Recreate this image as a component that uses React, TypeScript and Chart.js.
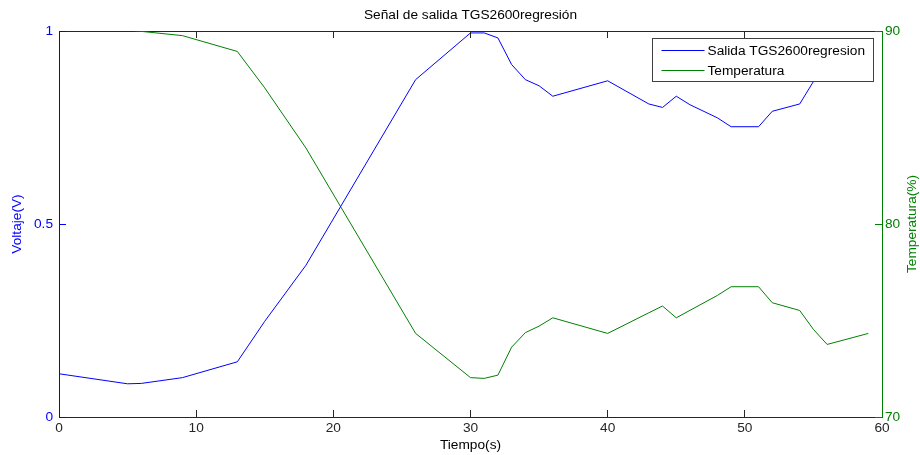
import React, { useEffect, useRef } from "react";
import { Chart, registerables } from "chart.js";

Chart.register(...registerables);

// ---- data ----
const titleText = "Señal de salida TGS2600regresión";
const xTitle = "Tiempo(s)";
const yLeftTitle = "Voltaje(V)";
const yRightTitle = "Temperatura(%)";
const seriesNames = ["Salida TGS2600regresion", "Temperatura"];

const timeV = [0, 5, 6, 9, 13, 15, 18, 26, 30, 31, 32, 33, 34, 35, 36, 40, 43, 44, 45, 46, 48, 49, 51, 52, 54, 55, 56, 59];
const voltage = [0.112, 0.086, 0.087, 0.102, 0.143, 0.248, 0.393, 0.874, 0.995, 0.995, 0.982, 0.913, 0.874, 0.858, 0.831, 0.871, 0.811, 0.802, 0.831, 0.809, 0.775, 0.752, 0.752, 0.792, 0.811, 0.869, 0.908, 0.88];

const timeT = [0, 5, 6, 9, 13, 15, 18, 26, 30, 31, 32, 33, 34, 35, 36, 40, 43, 44, 45, 48, 49, 51, 52, 54, 55, 56, 59];
const temperature = [90.8, 90.05, 89.98, 89.76, 88.94, 87.05, 83.94, 74.33, 72.04, 72.0, 72.17, 73.62, 74.37, 74.71, 75.14, 74.33, 75.4, 75.75, 75.14, 76.3, 76.75, 76.75, 75.92, 75.52, 74.54, 73.76, 74.33];

const xRange = [0, 60];
const yLeftRange = [0, 1];
const yRightRange = [70, 90];
const xStep = 10;
const yLeftStep = 0.5;
const yRightStep = 10;

const BLUE = "#0000ff";
const GREEN = "#008000";
const AXIS = "#262626";
const FONT_FAMILY = "'Liberation Sans', Arial, Helvetica, sans-serif";
const FONT_SIZE = 13.7;

const matlabPlugin = {
  id: "matlabDecor",
  afterDraw(chart: any) {
    const { ctx, chartArea, scales } = chart;
    const { left, right, top, bottom } = chartArea;
    const tick = 7;
    const line = (x1: number, y1: number, x2: number, y2: number) => {
      ctx.beginPath();
      ctx.moveTo(x1, y1);
      ctx.lineTo(x2, y2);
      ctx.stroke();
    };
    ctx.save();
    ctx.lineWidth = 1;
    // inward x ticks (bottom and top)
    ctx.strokeStyle = AXIS;
    scales.x.ticks.forEach((t: any) => {
      if (t.value <= xRange[0] || t.value >= xRange[1]) return;
      const px = Math.floor(scales.x.getPixelForValue(t.value)) + 0.5;
      line(px, Math.floor(bottom) + 0.5, px, bottom - tick);
      line(px, Math.floor(top) + 0.5, px, top + tick);
    });
    // inward left y ticks
    ctx.strokeStyle = BLUE;
    scales.y.ticks.forEach((t: any) => {
      const py = Math.floor(scales.y.getPixelForValue(t.value)) + 0.5;
      line(Math.floor(left) + 0.5, py, left + tick, py);
    });
    // inward right y ticks
    ctx.strokeStyle = GREEN;
    scales.y2.ticks.forEach((t: any) => {
      const py = Math.floor(scales.y2.getPixelForValue(t.value)) + 0.5;
      line(Math.floor(right) + 0.5, py, right - tick, py);
    });
    // right axis title (reads bottom-to-top like MATLAB)
    ctx.save();
    ctx.translate(912, (top + bottom) / 2);
    ctx.rotate(-Math.PI / 2);
    ctx.fillStyle = GREEN;
    ctx.font = `${FONT_SIZE}px ${FONT_FAMILY}`;
    ctx.textAlign = "center";
    ctx.textBaseline = "middle";
    ctx.fillText(yRightTitle, 0, 0);
    ctx.restore();

    // legend box inside the plot (top-right)
    const bx = Math.floor(right) - 229.5;
    const by = Math.floor(top) + 7.5;
    const bw = 221;
    const bh = 43;
    ctx.fillStyle = "#ffffff";
    ctx.fillRect(bx, by, bw, bh);
    ctx.strokeStyle = "#404040";
    ctx.strokeRect(bx, by, bw, bh);
    ctx.font = `${FONT_SIZE}px ${FONT_FAMILY}`;
    ctx.textAlign = "left";
    ctx.textBaseline = "middle";
    chart.data.datasets.forEach((ds: any, i: number) => {
      const ry = by + 12 + i * 20;
      ctx.strokeStyle = ds.borderColor;
      line(bx + 9, ry, bx + 52, ry);
      ctx.fillStyle = "#000000";
      ctx.fillText(ds.label, bx + 55, ry + 0.5);
    });
    ctx.restore();
  },
};

export default function App() {
  const canvasRef = useRef<HTMLCanvasElement | null>(null);

  useEffect(() => {
    if (!canvasRef.current) return;
    const font = { family: FONT_FAMILY, size: FONT_SIZE, lineHeight: 1.2 };
    const plain = (v: any) => String(Number(v));
    const chart = new Chart(canvasRef.current, {
      type: "line",
      data: {
        datasets: [
          {
            label: seriesNames[0],
            data: timeV.map((t, i) => ({ x: t, y: voltage[i] })),
            borderColor: BLUE,
            borderWidth: 1,
            pointRadius: 0,
            tension: 0,
            fill: false,
            xAxisID: "x",
            yAxisID: "y",
          },
          {
            label: seriesNames[1],
            data: timeT.map((t, i) => ({ x: t, y: temperature[i] })),
            borderColor: GREEN,
            borderWidth: 1,
            pointRadius: 0,
            tension: 0,
            fill: false,
            xAxisID: "x",
            yAxisID: "y2",
          },
        ],
      },
      options: {
        responsive: false,
        animation: false,
        devicePixelRatio: 1,
        layout: { padding: 0 },
        plugins: {
          legend: { display: false },
          title: { display: false },
          tooltip: { enabled: false },
        },
        scales: {
          x: {
            type: "linear",
            position: "bottom",
            min: xRange[0],
            max: xRange[1],
            ticks: { stepSize: xStep, color: AXIS, font, padding: 3, maxRotation: 0, callback: plain },
            grid: { display: true, drawOnChartArea: false, drawTicks: false, color: AXIS },
            border: { display: true, color: AXIS, width: 1 },
            title: { display: true, text: xTitle, color: "#000", font, padding: { top: 0, bottom: 2 } },
            afterFit: (s: any) => {
              s.height = 38;
            },
          },
          xTop: {
            type: "linear",
            position: "top",
            min: xRange[0],
            max: xRange[1],
            ticks: { display: false },
            grid: { display: true, drawOnChartArea: false, drawTicks: false, color: AXIS },
            border: { display: true, color: AXIS, width: 1 },
            title: { display: true, text: titleText, color: "#000", font, padding: { top: 7, bottom: 0 } },
            afterFit: (s: any) => {
              s.height = 31;
            },
          },
          y: {
            type: "linear",
            position: "left",
            min: yLeftRange[0],
            max: yLeftRange[1],
            ticks: { stepSize: yLeftStep, color: BLUE, font, padding: 6, callback: plain },
            grid: { display: true, drawOnChartArea: false, drawTicks: false, color: BLUE },
            border: { display: true, color: BLUE, width: 1 },
            title: { display: true, text: yLeftTitle, color: BLUE, font, padding: { top: 9, bottom: 0 } },
            afterFit: (s: any) => {
              s.width = 59;
            },
          },
          y2: {
            type: "linear",
            position: "right",
            min: yRightRange[0],
            max: yRightRange[1],
            ticks: { stepSize: yRightStep, color: GREEN, font, padding: 3, callback: plain },
            grid: { display: true, drawOnChartArea: false, drawTicks: false, color: GREEN },
            border: { display: true, color: GREEN, width: 1 },
            title: { display: false },
            afterFit: (s: any) => {
              s.width = 38;
            },
          },
        },
      } as any,
      plugins: [matlabPlugin],
    });
    return () => chart.destroy();
  }, []);

  return (
    <div style={{ position: "absolute", left: 0, top: 0, width: 920, height: 455, background: "#fff" }}>
      <canvas ref={canvasRef} width={920} height={455} style={{ display: "block" }} />
    </div>
  );
}
